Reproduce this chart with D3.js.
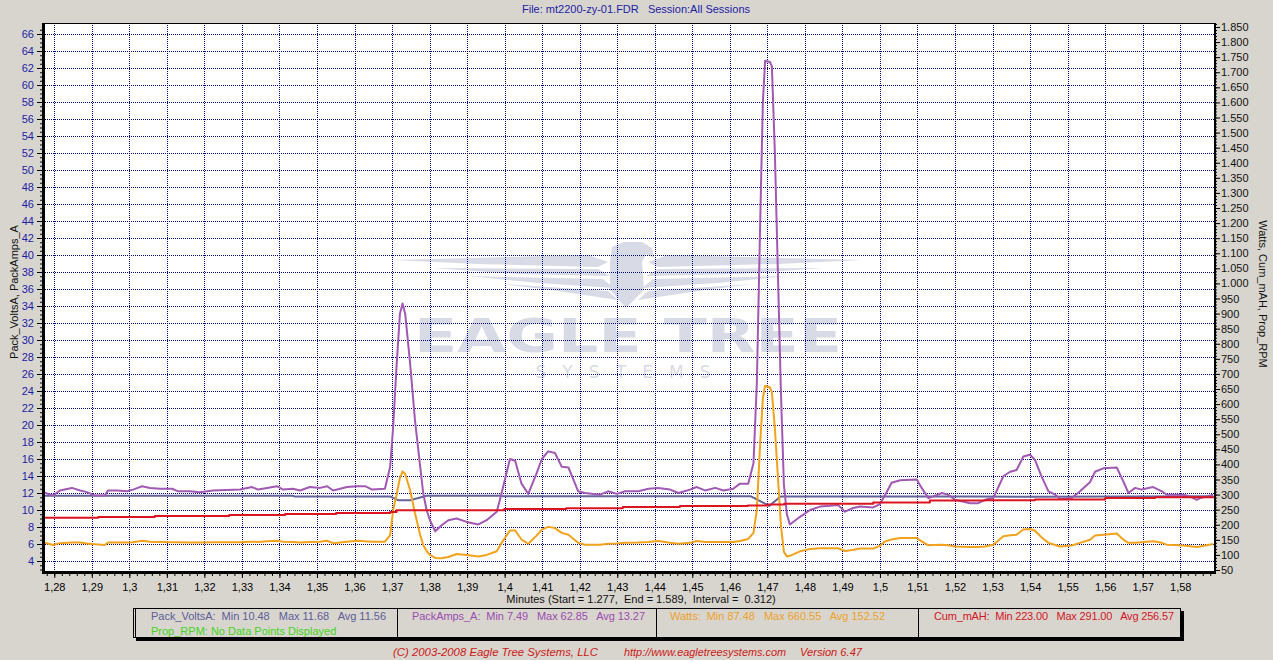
<!DOCTYPE html>
<html><head><meta charset="utf-8">
<script src="https://cdn.jsdelivr.net/npm/d3@7"></script>
<style>
html,body{margin:0;padding:0;background:#d8d5ce;overflow:hidden;}
svg{display:block;}
text{font-family:"Liberation Sans",Arial,sans-serif;}
</style></head><body>
<svg id="c" width="1273" height="660"></svg>
<script>
// ---------------- DATA ----------------
const titleText = "File: mt2200-zy-01.FDR   Session:All Sessions";
const leftAxisTitle = "Pack_VoltsA, PackAmps_A";
const rightAxisTitle = "Watts, Cum_mAH, Prop_RPM";
const xAxisTitle = "Minutes (Start = 1.277,  End = 1.589,  Interval =  0.312)";

const leftTicks = [4,6,8,10,12,14,16,18,20,22,24,26,28,30,32,34,36,38,40,42,44,46,48,50,52,54,56,58,60,62,64,66];
const rightTicks = [50,100,150,200,250,300,350,400,450,500,550,600,650,700,750,800,850,900,950,1000,1050,1100,1150,1200,1250,1300,1350,1400,1450,1500,1550,1600,1650,1700,1750,1800,1850];
const xTickValues = [1.28,1.29,1.30,1.31,1.32,1.33,1.34,1.35,1.36,1.37,1.38,1.39,1.40,1.41,1.42,1.43,1.44,1.45,1.46,1.47,1.48,1.49,1.50,1.51,1.52,1.53,1.54,1.55,1.56,1.57,1.58];
const xTickLabels = ["1,28","1,29","1,3","1,31","1,32","1,33","1,34","1,35","1,36","1,37","1,38","1,39","1,4","1,41","1,42","1,43","1,44","1,45","1,46","1,47","1,48","1,49","1,5","1,51","1,52","1,53","1,54","1,55","1,56","1,57","1,58"];

// time (minutes) for PackAmps_A and Watts
const timeA = [1.2770,1.2797,1.2815,1.2847,1.2869,1.2887,1.2909,1.2935,1.2943,1.2967,1.2994,1.3010,1.3034,1.3055,1.3082,1.3114,1.3130,1.3162,1.3188,1.3223,1.3295,1.3327,1.3343,1.3367,1.3393,1.3410,1.3436,1.3455,1.3481,1.3508,1.3527,1.3543,1.3580,1.3607,1.3628,1.3647,1.3681,1.3695,1.3703,1.3712,1.3721,1.3728,1.3735,1.3748,1.3761,1.3775,1.3783,1.3792,1.3801,1.3815,1.3832,1.3850,1.3872,1.3899,1.3930,1.3952,1.3979,1.3992,1.4014,1.4028,1.4045,1.4063,1.4085,1.4099,1.4116,1.4134,1.4152,1.4170,1.4196,1.4214,1.4254,1.4276,1.4299,1.4321,1.4356,1.4383,1.4409,1.4441,1.4463,1.4494,1.4512,1.4534,1.4561,1.4583,1.4609,1.4627,1.4649,1.4663,1.4672,1.4680,1.4688,1.4694,1.4707,1.4712,1.4720,1.4728,1.4736,1.4744,1.4752,1.4760,1.4787,1.4814,1.4840,1.4867,1.4888,1.4907,1.4926,1.4947,1.4982,1.5000,1.5014,1.5031,1.5054,1.5098,1.5111,1.5129,1.5142,1.5165,1.5182,1.5200,1.5240,1.5262,1.5280,1.5302,1.5329,1.5347,1.5364,1.5382,1.5400,1.5413,1.5431,1.5449,1.5467,1.5480,1.5511,1.5533,1.5560,1.5573,1.5595,1.5631,1.5649,1.5662,1.5680,1.5697,1.5728,1.5751,1.5764,1.5808,1.5826,1.5844,1.5853,1.5888];
const packAmps = [12.1,11.7,12.3,12.6,12.3,12.1,11.7,11.7,12.3,12.3,12.2,12.4,12.8,12.6,12.5,12.5,12.2,12.2,12.1,12.3,12.4,12.7,12.4,12.6,12.8,12.4,12.5,12.3,12.7,12.6,12.8,12.3,12.7,12.8,12.8,12.4,12.5,15.1,19.8,26.9,33.1,34.3,33.1,27.3,20.6,15.1,12.0,10.0,8.8,7.5,8.2,8.8,9.0,8.6,8.3,8.8,9.8,12.0,16.0,15.8,13.1,11.9,14.3,16.0,16.9,16.7,15.1,15.0,12.2,12.0,11.8,12.2,11.9,12.2,12.2,12.5,12.6,12.4,12.0,12.4,12.7,12.3,12.6,12.3,12.5,13.1,13.1,15.5,25,42,58,62.85,62.7,62.2,52,38,24,13,9.5,8.3,9.2,10.0,10.4,10.5,10.6,9.8,10.2,10.4,10.3,10.7,11.8,13.2,13.5,13.6,12.6,11.4,11.6,12.0,11.8,11.2,10.8,10.8,11.2,11.4,14.0,14.5,14.7,16.3,16.5,15.9,13.9,12.2,11.8,11.3,11.4,12.2,13.3,14.5,14.9,15.0,13.3,12.0,12.6,12.4,12.7,12.2,11.8,11.8,11.6,11.2,11.4,11.8];
const watts = [142,133,139,141,141,138,135,133,141,141,141,142,147,144,143,142,142,141,141,142,142,144,143,145,147,144,143,141,143,144,147,139,144,147,145,144,144,166,249,299,355,377,368,315,239,166,133,113,100,90,89,93,103,100,95,100,112,140,181,181,151,137,164,184,193,189,173,167,140,134,134,137,138,140,141,143,146,140,137,140,146,143,143,143,143,146,153,173,250,450,620,660.55,655,640,520,360,200,110,95,97,112,120,122,122,122,113,116,121,121,130,145,151,156,156,145,132,133,134,132,128,126,126,128,134,162,165,167,184,186,180,158,140,133,128,131,140,150,164,167,171,150,140,140,142,145,140,134,131,129,126,128,136];

// Pack_VoltsA
const timeV = [1.2770,1.3435,1.3440,1.3695,1.3716,1.3748,1.3792,1.3990,1.3995,1.4655,1.4705,1.4735,1.5250,1.5400,1.5888];
const packVolts = [11.68,11.68,11.60,11.60,11.15,11.15,11.68,11.68,11.62,11.62,10.48,11.60,11.60,11.55,11.62];

// Cum_mAH (stepped)
const timeC = [1.2770,1.2917,1.3068,1.3266,1.3415,1.3551,1.3695,1.3712,1.3999,1.4164,1.4315,1.4467,1.4648,1.4700,1.4745,1.4982,1.5133,1.5280,1.5413,1.5600,1.5733,1.5890];
const cumMAH = [223,226,229,232,236,239,242,248,252,255,259,262,264,267,270,274,280,281,284,289,291,291];

// legend
const legendNames = ["Pack_VoltsA","PackAmps_A","Watts","Cum_mAH"];
const legendMin = ["10.48","7.49","87.48","223.00"];
const legendMax = ["11.68","62.85","660.55","291.00"];
const legendAvg = ["11.56","13.27","152.52","256.57"];
const propRpmText = "Prop_RPM: No Data Points Displayed";
const footerTexts = ["(C) 2003-2008 Eagle Tree Systems, LLC","http://www.eagletreesystems.com","Version 6.47"];

// ---------------- DRAW ----------------
const W=1273,H=660;
const P={l:43,r:1214,t:23,b:572};
const svg=d3.select("#c");
const x=d3.scaleLinear().domain([1.277,1.589]).range([P.l,P.r]);
const yL=d3.scaleLinear().domain([4,66]).range([561,34]);
const yR=d3.scaleLinear().domain([50,1850]).range([570,27]);

svg.append("rect").attr("width",W).attr("height",H).attr("fill","#d8d5ce");
svg.append("rect").attr("x",P.l).attr("y",P.t).attr("width",P.r-P.l).attr("height",P.b-P.t).attr("fill","#fff");

// watermark
const wm=svg.append("g").attr("fill","#d8dbe6");
const cx=628;
const leftEagle=[
  [[-235,260],[-40,255],[-20,262],[-30,267],[-150,264]],
  [[-195,268],[-30,269],[-18,276],[-110,274]],
  [[-160,276],[-25,279],[-14,288],[-90,283]],
  [[-125,284],[-20,291],[-10,300],[-70,291]]
];
leftEagle.forEach(p=>{
  wm.append("polygon").attr("points",p.map(q=>(cx+q[0])+","+q[1]).join(" "));
  wm.append("polygon").attr("points",p.map(q=>(cx-q[0])+","+q[1]).join(" "));
});
wm.append("path").attr("d",`M${cx-18},262 L${cx-16},247 L${cx-4},242 L${cx+14},242 L${cx+24},248 L${cx+26},258 L${cx+18},254 L${cx+14},262 L${cx+16},290 L${cx-2},308 L${cx-18},290 Z`);
wm.append("text").attr("x",cx).attr("y",352).attr("text-anchor","middle")
  .style("font-family","'DejaVu Sans',sans-serif").style("font-weight","bold").style("font-size","46px")
  .attr("textLength",428).attr("lengthAdjust","spacingAndGlyphs").text("EAGLE TREE");
wm.append("text").attr("x",cx-5).attr("y",378).attr("text-anchor","middle")
  .style("font-family","'DejaVu Sans',sans-serif").style("font-size","17px")
  .attr("textLength",175).attr("lengthAdjust","spacing").text("SYSTEMS");

// grid
const grid=svg.append("g").attr("stroke","#00007a").attr("stroke-width",1).attr("stroke-dasharray","1,1").attr("shape-rendering","crispEdges");
leftTicks.forEach(v=>{const y=Math.round(yL(v))+0.5;grid.append("line").attr("x1",P.l).attr("x2",P.r).attr("y1",y).attr("y2",y);});
xTickValues.forEach(v=>{const xx=Math.round(x(v))+0.5;grid.append("line").attr("x1",xx).attr("x2",xx).attr("y1",P.t).attr("y2",P.b);});

// series
const lineA=d3.line().x((d,i)=>x(timeA[i])).y(d=>yL(d));
const lineW=d3.line().x((d,i)=>x(timeA[i])).y(d=>yR(d));
const lineV=d3.line().x((d,i)=>x(timeV[i])).y(d=>yL(d));
const lineC=d3.line().curve(d3.curveStepAfter).x((d,i)=>x(timeC[i])).y(d=>yR(d));
const plot=svg.append("g").attr("fill","none").attr("stroke-width",2).attr("stroke-linejoin","round");
plot.append("path").attr("d",lineV(packVolts)).attr("stroke","#64649a");
plot.append("path").attr("d",lineA(packAmps)).attr("stroke","#a259b4");
plot.append("path").attr("d",lineW(watts)).attr("stroke","#f3a21c");
plot.append("path").attr("d",lineC(cumMAH)).attr("stroke","#dc1420");

// axes
function styleAxis(g,color){
  g.select(".domain").remove();
  g.selectAll("line").attr("stroke","#000");
  g.selectAll("text").attr("fill",color).style("font-size","11px").style("font-family","'Liberation Sans',Arial,sans-serif");
}
const gL=svg.append("g").attr("transform",`translate(${P.l-1},0)`)
  .call(d3.axisLeft(yL).tickValues(leftTicks).tickSize(5).tickPadding(3).tickFormat(d3.format("d")));
styleAxis(gL,"#1c1ca6");
const gLm=svg.append("g").attr("transform",`translate(${P.l-1},0)`)
  .call(d3.axisLeft(yL).tickValues(d3.range(3,67,0.5)).tickSize(2).tickFormat(""));
styleAxis(gLm,"#000");
const gR=svg.append("g").attr("transform",`translate(${P.r+1},0)`)
  .call(d3.axisRight(yR).tickValues(rightTicks).tickSize(5).tickPadding(1).tickFormat(v=>d3.format(",")(v).replace(",",".")));
styleAxis(gR,"#111");
const gRm=svg.append("g").attr("transform",`translate(${P.r+1},0)`)
  .call(d3.axisRight(yR).tickValues(d3.range(50,1861,10)).tickSize(2).tickFormat(""));
styleAxis(gRm,"#000");
const gB=svg.append("g").attr("transform",`translate(0,${P.b+1})`)
  .call(d3.axisBottom(x).tickValues(xTickValues).tickSize(5).tickPadding(5).tickFormat((d,i)=>xTickLabels[i]));
styleAxis(gB,"#000");
const gBm=svg.append("g").attr("transform",`translate(0,${P.b+1})`)
  .call(d3.axisBottom(x).tickValues(d3.range(1.278,1.589,0.002)).tickSize(3).tickFormat(""));
styleAxis(gBm,"#000");

// frame
const fr=svg.append("g").attr("stroke","#000").attr("shape-rendering","crispEdges");
fr.append("line").attr("x1",P.l).attr("x2",P.r+1).attr("y1",P.t+0.5).attr("y2",P.t+0.5).attr("stroke-width",1);
fr.append("line").attr("x1",P.l).attr("x2",P.l).attr("y1",P.t).attr("y2",P.b+2).attr("stroke-width",3);
fr.append("line").attr("x1",P.r+0.5).attr("x2",P.r+0.5).attr("y1",P.t).attr("y2",P.b+2).attr("stroke-width",2);
fr.append("line").attr("x1",P.l-1).attr("x2",P.r+2).attr("y1",P.b+0.5).attr("y2",P.b+0.5).attr("stroke-width",3);

// titles
svg.append("text").attr("x",636).attr("y",13).attr("text-anchor","middle").attr("fill","#1c1ca6").style("font-size","11px").style("white-space","pre").text(titleText);
svg.append("text").attr("transform","translate(18,292) rotate(-90)").attr("text-anchor","middle").attr("fill","#111").style("font-size","11px").text(leftAxisTitle);
svg.append("text").attr("transform","translate(1259,294) rotate(90)").attr("text-anchor","middle").attr("fill","#111").style("font-size","11px").text(rightAxisTitle);
svg.append("text").attr("x",641).attr("y",603).attr("text-anchor","middle").attr("fill","#111").style("font-size","11px").style("white-space","pre").text(xAxisTitle);

// legend box
const lg=svg.append("g").attr("shape-rendering","crispEdges");
lg.append("rect").attr("x",136).attr("y",611).attr("width",1048).attr("height",30).attr("fill","#000");
lg.append("rect").attr("x",133.5).attr("y",608.5).attr("width",1047).attr("height",29).attr("fill","#d8d5ce").attr("stroke","#000");
lg.append("line").attr("x1",135.5).attr("x2",135.5).attr("y1",609).attr("y2",637).attr("stroke","#000");
[397,656,918].forEach(v=>lg.append("line").attr("x1",v+0.5).attr("x2",v+0.5).attr("y1",609).attr("y2",637).attr("stroke","#000"));
const legendX=[151,412,670,934];
const legendW=[235,233,215,240];
const legendColor=["#5c5c98","#9c4cae","#eea22a","#d41424"];
legendNames.forEach((n,i)=>{
  svg.append("text").attr("x",legendX[i]).attr("y",620).attr("fill",legendColor[i]).style("font-size","11px").style("white-space","pre")
    .attr("textLength",legendW[i]).attr("lengthAdjust","spacing")
    .text(`${n}:  Min ${legendMin[i]}   Max ${legendMax[i]}   Avg ${legendAvg[i]}`);
});
svg.append("text").attr("x",151).attr("y",635).attr("fill","#44d41c").style("font-size","11px").text(propRpmText);

// footer
const footX=[393,624,800];
const footW=[205,162,62];
footerTexts.forEach((t,i)=>svg.append("text").attr("x",footX[i]).attr("y",656).attr("fill","#cc1818").style("font-size","11px").style("font-style","italic")
  .attr("textLength",footW[i]).attr("lengthAdjust","spacingAndGlyphs").text(t));
</script>
</body></html>
